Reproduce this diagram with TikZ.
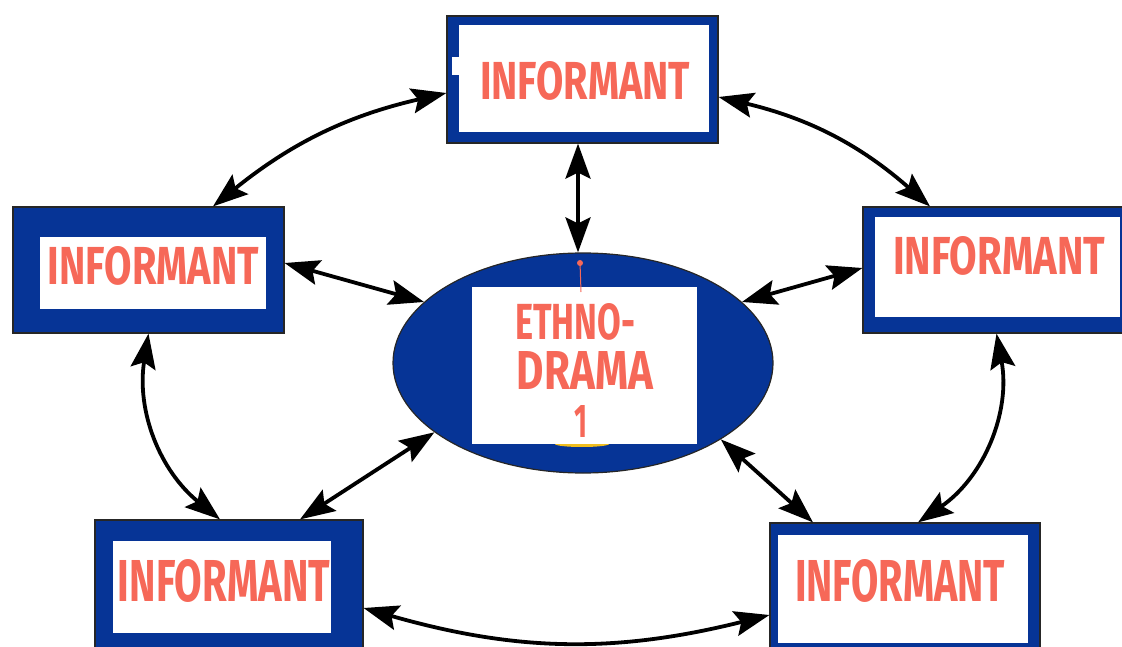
\documentclass[tikz,border=0pt]{standalone}
\usepackage{fontspec}
\setmainfont{Fira Sans}
\usetikzlibrary{shapes.geometric,arrows.meta}
\definecolor{boxblue}{RGB}{6,52,150}
\definecolor{salmon}{RGB}{246,104,88}
\definecolor{pinyellow}{RGB}{240,190,30}
\tikzset{
 outerbox/.style={rectangle, fill=boxblue, draw=black!85, line width=1.2pt, inner sep=0pt},
 innerbox/.style={rectangle, fill=white, inner sep=0pt},
 lbl/.style={text=salmon, inner sep=0pt, font=\bfseries},
 tipshape/.tip={Stealth[length=35pt,width=25pt,inset=6pt]},
 link/.style={{tipshape}-{tipshape}, line width=3.8pt},
}
\newcommand{\wordfit}[3]{\resizebox{#1pt}{#2pt}{#3}}
\begin{document}
\begin{tikzpicture}[x=1pt,y=-1pt]
\useasboundingbox (0,0) rectangle (1122,647);
\fill[white] (0,0) rectangle (1122,647);
% top
\node[outerbox, minimum width=271pt, minimum height=127pt] (T) at (582.5,79.5) {};
\node[innerbox, minimum width=250pt, minimum height=107pt] (Ti) at (584,78.5) {};
\fill[white] (452,57) rectangle (460,75);
\node[lbl] (Tt) at (585,81) {\wordfit{210}{38}{INFORMANT}};
% left
\node[outerbox, minimum width=271pt, minimum height=126pt] (L) at (148.5,270) {};
\node[innerbox, minimum width=226pt, minimum height=72pt] (Li) at (153,273) {};
\node[lbl] (Lt) at (153.5,266) {\wordfit{211}{38}{INFORMANT}};
% right
\node[outerbox, minimum width=267pt, minimum height=126pt] (R) at (996.5,270) {};
\node[innerbox, minimum width=245pt, minimum height=100pt] (Ri) at (997.5,267) {};
\node[lbl] (Rt) at (999,256) {\wordfit{212}{38}{INFORMANT}};
% bottom left
\node[outerbox, minimum width=268pt, minimum height=130pt] (BL) at (229,585) {};
\node[innerbox, minimum width=218pt, minimum height=92pt] (BLi) at (222,587) {};
\node[lbl] (BLt) at (224,581) {\wordfit{212}{42}{INFORMANT}};
% bottom right
\node[outerbox, minimum width=270pt, minimum height=127pt] (BR) at (905,586.5) {};
\node[innerbox, minimum width=250pt, minimum height=108pt] (BRi) at (903,589) {};
\node[lbl] (BRt) at (900,581) {\wordfit{210}{42}{INFORMANT}};
% centre
\node[ellipse, fill=boxblue, draw=black!85, line width=1.2pt, minimum width=380pt, minimum height=220pt, inner sep=0pt] (E) at (583,363) {};
\fill[pinyellow] (582,444) ellipse (27pt and 3pt);
\node[innerbox, minimum width=225pt, minimum height=157pt] (Ei) at (584.5,365.5) {};
\draw[salmon, line width=1pt] (580,262) -- (581,292);
\fill[salmon] (580,263) circle (3pt);
\node[lbl] (Et1) at (575,321.5) {\wordfit{120}{36}{ETHNO-}};
\node[lbl] (Et2) at (585,370) {\wordfit{136}{38}{DRAMA}};
\node[lbl] (Et3) at (581,421) {\wordfit{13}{32}{1}};
% connectors
\draw[link] ([xshift=64.5pt]L.north) to[bend left=13] ([yshift=-13.5pt]T.west);
\draw[link] ([yshift=-17.5pt]T.east) to[bend left=14] ([xshift=-66.5pt]R.north);
\draw[link] ([xshift=-4.5pt]T.south) -- ([xshift=-5pt]E.north);
\draw[link] ([yshift=7pt]L.east) -- (E.159);
\draw[link] ([yshift=2pt]R.west) -- (E.21);
\draw[link] ([xshift=71pt]BL.north) -- (E.205);
\draw[link] ([xshift=-92pt]BR.north) -- (E.331);
\draw[link] (L.south) to[bend right=30] ([xshift=-9pt]BL.north);
\draw[link] (R.south) to[bend left=33] ([xshift=13pt]BR.north);
\draw[link] ([yshift=-23pt]BL.east) to[bend right=15] ([yshift=-28.5pt]BR.west);
\end{tikzpicture}
\end{document}
